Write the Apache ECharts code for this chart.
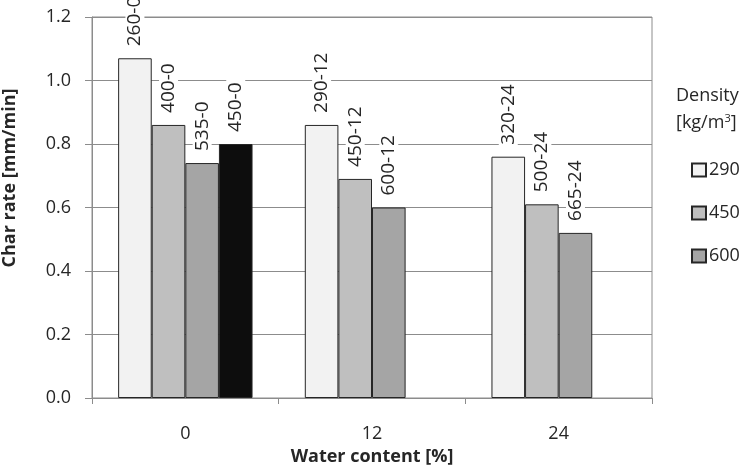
<!DOCTYPE html>
<html>
<head>
<meta charset="utf-8">
<script src="https://cdn.jsdelivr.net/npm/echarts@6/dist/echarts.min.js"></script>
<style>
html,body{margin:0;padding:0;background:#fff;}
#chart{width:744px;height:470px;}
</style>
</head>
<body>
<div id="chart"></div>
<script>
var categories = ['0', '12', '24'];
var values290 = [1.07, 0.86, 0.76];
var values450 = [0.86, 0.69, 0.61];
var values600 = [0.74, 0.60, 0.52];
var valuesBlack = [0.80, null, null];
var labels290 = ['260-0', '290-12', '320-24'];
var labels450 = ['400-0', '450-12', '500-24'];
var labels600 = ['535-0', '600-12', '665-24'];
var labelsBlack = ['450-0', '', ''];
var yTicks = [0, 0.2, 0.4, 0.6, 0.8, 1.0, 1.2];

var FONT = '"Open Sans", sans-serif';
var TXT = '#262626';
var GRIDC = '#8c8c8c';

function mk(name, vals, labs, color) {
  return {
    name: name,
    type: 'bar',
    barGap: '0%',
    barCategoryGap: '28%',
    data: vals.map(function (v, i) { return { value: v, labelText: labs[i] }; }),
    itemStyle: { color: color, borderColor: '#262626', borderWidth: 1 },
    label: {
      show: true,
      position: 'top',
      rotate: 90,
      align: 'left',
      verticalAlign: 'middle',
      distance: 9,
      color: TXT,
      fontFamily: FONT,
      fontSize: 19,
      backgroundColor: '#fff',
      padding: [0, 3, 0, 3],
      formatter: function (p) { return p.data.labelText; }
    }
  };
}

var chart = echarts.init(document.getElementById('chart'));
chart.setOption({
  animation: false,
  backgroundColor: '#fff',
  grid: { left: 92, right: 92, top: 17, bottom: 72, outerBoundsMode: 'none', containLabel: false, show: true, borderColor: GRIDC, borderWidth: 1, backgroundColor: 'transparent' },
  xAxis: {
    type: 'category',
    data: categories,
    name: 'Water content [%]',
    nameLocation: 'middle',
    nameGap: 50,
    nameTextStyle: { fontFamily: FONT, fontSize: 18, fontWeight: 'bold', color: TXT },
    axisLine: { lineStyle: { color: GRIDC, width: 1 } },
    axisTick: { show: true, length: 6, lineStyle: { color: GRIDC } },
    axisLabel: { margin: 27, fontFamily: FONT, fontSize: 18, color: TXT }
  },
  yAxis: {
    type: 'value',
    min: 0, max: 1.2, interval: 0.2,
    axisLine: { show: true, lineStyle: { color: GRIDC, width: 1 } },
    axisTick: { show: true, length: 7, lineStyle: { color: GRIDC } },
    splitLine: { show: true, lineStyle: { color: GRIDC, width: 1 } },
    axisLabel: {
      margin: 21, fontFamily: FONT, fontSize: 18, color: TXT,
      formatter: function (v) {
        for (var i = 0; i < yTicks.length; i++) { if (Math.abs(yTicks[i] - v) < 1e-9) return yTicks[i].toFixed(1); }
        return '';
      }
    }
  },
  legend: {
    data: ['290', '450', '600'],
    orient: 'vertical',
    left: 686,
    top: 156,
    itemWidth: 14,
    itemHeight: 13,
    itemGap: 25,
    icon: 'rect',
    textStyle: { fontFamily: FONT, fontSize: 18, color: TXT, padding: [0, 0, 0, -2] }
  },
  graphic: [
    { type: 'text', x: 10, y: 178, rotation: Math.PI / 2, style: { text: 'Char rate [mm/min]', align: 'center', verticalAlign: 'middle', fontFamily: FONT, fontSize: 18, fontWeight: 'bold', fill: TXT } },
    { type: 'text', left: 676, top: 87, style: { text: 'Density', fontFamily: FONT, fontSize: 18, fill: TXT } },
    { type: 'text', left: 676, top: 113, style: { text: '[kg/m{sup|3}]', rich: { sup: { fontSize: 11, verticalAlign: 'top', padding: [0, 0, 8, 0], fontFamily: FONT, fill: TXT } }, fontFamily: FONT, fontSize: 18, fill: TXT } }
  ],
  series: [
    mk('290', values290, labels290, '#f2f2f2'),
    mk('450', values450, labels450, '#bfbfbf'),
    mk('600', values600, labels600, '#a5a5a5'),
    mk('450-0', valuesBlack, labelsBlack, '#0d0d0d')
  ]
});
</script>
</body>
</html>
